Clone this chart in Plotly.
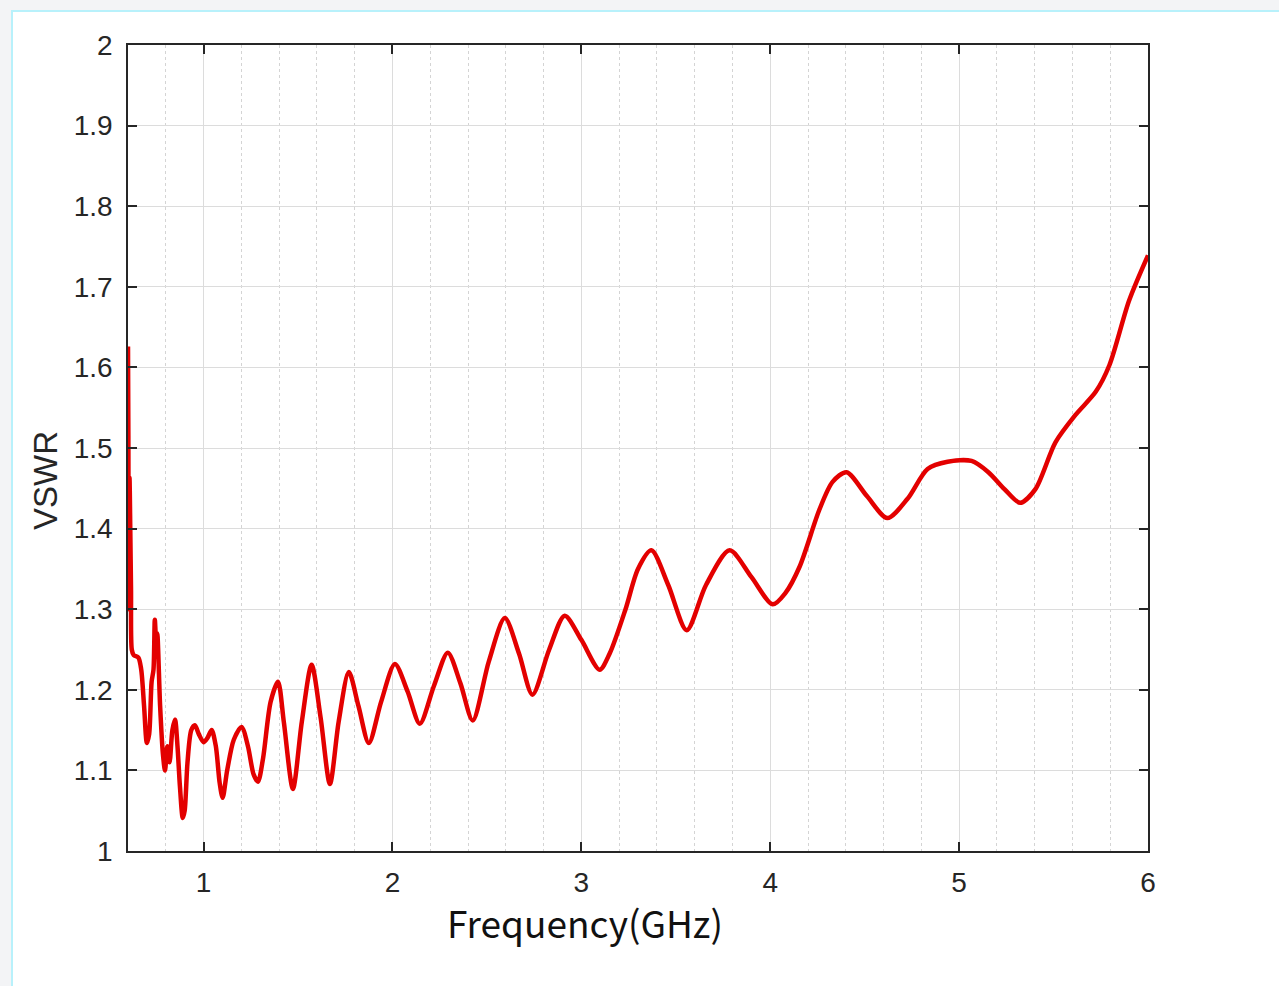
import plotly.graph_objects as go

freq_ghz = [0.600, 0.602, 0.604, 0.608, 0.612, 0.616, 0.620, 0.630, 0.655, 0.670, 0.685,
            0.700, 0.712, 0.725, 0.735, 0.742, 0.750, 0.755, 0.770, 0.785, 0.796, 0.808,
            0.820, 0.835, 0.849, 0.862, 0.875, 0.890, 0.900, 0.915, 0.935, 0.954, 0.975,
            1.000, 1.020, 1.043, 1.065, 1.085, 1.101, 1.125, 1.160, 1.201, 1.235, 1.265,
            1.288, 1.315, 1.355, 1.394, 1.425, 1.473, 1.520, 1.572, 1.620, 1.669, 1.715,
            1.769, 1.820, 1.875, 1.940, 2.013, 2.080, 2.145, 2.220, 2.293, 2.360, 2.425,
            2.510, 2.595, 2.670, 2.741, 2.830, 2.912, 3.000, 3.097, 3.150, 3.234, 3.300,
            3.371, 3.460, 3.558, 3.660, 3.785, 3.900, 4.013, 4.080, 4.156, 4.261, 4.330,
            4.404, 4.513, 4.620, 4.727, 4.833, 4.939, 5.066, 5.155, 5.240, 5.323, 5.404,
            5.510, 5.616, 5.724, 5.796, 5.900, 6.000]
vswr = [1.626, 1.515, 1.300, 1.463, 1.400, 1.324, 1.250, 1.243, 1.240, 1.225, 1.180,
        1.134, 1.145, 1.210, 1.225, 1.287, 1.255, 1.270, 1.180, 1.120, 1.100, 1.130,
        1.110, 1.150, 1.163, 1.130, 1.080, 1.041, 1.050, 1.110, 1.150, 1.156, 1.145,
        1.135, 1.140, 1.150, 1.130, 1.085, 1.066, 1.100, 1.138, 1.154, 1.130, 1.095,
        1.086, 1.115, 1.185, 1.210, 1.160, 1.077, 1.160, 1.231, 1.165, 1.083, 1.160,
        1.222, 1.180, 1.134, 1.185, 1.232, 1.198, 1.158, 1.205, 1.246, 1.208, 1.162,
        1.235, 1.289, 1.245, 1.194, 1.250, 1.292, 1.262, 1.225, 1.245, 1.300, 1.350,
        1.373, 1.330, 1.274, 1.330, 1.373, 1.340, 1.306, 1.320, 1.353, 1.424, 1.458,
        1.470, 1.440, 1.413, 1.437, 1.474, 1.483, 1.484, 1.470, 1.449, 1.432, 1.449,
        1.507, 1.541, 1.570, 1.603, 1.683, 1.739]

x_ticks = [1, 2, 3, 4, 5, 6]
y_ticks = [1, 1.1, 1.2, 1.3, 1.4, 1.5, 1.6, 1.7, 1.8, 1.9, 2]
y_tick_text = ["1", "1.1", "1.2", "1.3", "1.4", "1.5", "1.6", "1.7", "1.8", "1.9", "2"]

W, H = 1279, 986
L, R, T, B = 128, 1148, 45, 851

def px(xp):
    return (xp - L) / (R - L)

def py(yp):
    return (B - yp) / (B - T)

axis_col = "#262626"
grid_col = "#dcdcdc"
tick_font = dict(family="Liberation Sans, Arial, sans-serif", size=28, color=axis_col)

fig = go.Figure()
fig.add_trace(go.Scatter(x=freq_ghz, y=vswr, mode="lines",
                         line=dict(color="#e30000", width=4.5, shape="spline", smoothing=0.8),
                         hoverinfo="skip", showlegend=False))

fig.update_layout(
    width=W, height=H,
    margin=dict(l=L, r=W - R, t=T, b=H - B, pad=0),
    paper_bgcolor="#f3f4f6",
    plot_bgcolor="white",
    showlegend=False,
    shapes=[dict(type="rect", xref="paper", yref="paper", layer="below",
                 x0=px(12), x1=px(W + 10), y0=py(H + 10), y1=py(11),
                 fillcolor="white", line=dict(color="#b8f1fb", width=2))],
    annotations=[
        dict(text="Frequency(GHz)", xref="paper", yref="paper", x=px(585), y=py(922),
             xanchor="center", yanchor="middle", showarrow=False,
             font=dict(family="Noto Sans CJK SC, Noto Sans, sans-serif", size=37, color="#111111")),
        dict(text="VSWR", xref="paper", yref="paper", x=px(45), y=py(481), textangle=-90,
             xanchor="center", yanchor="middle", showarrow=False,
             font=dict(family="Liberation Sans, Arial, sans-serif", size=33, color=axis_col)),
    ],
)

fig.update_xaxes(
    range=[0.6, 6], tickmode="array", tickvals=x_ticks, ticktext=[str(v) for v in x_ticks],
    showline=True, linecolor=axis_col, linewidth=1.5, mirror="ticks",
    ticks="inside", ticklen=9, tickwidth=1.5, tickcolor=axis_col,
    showgrid=True, gridcolor=grid_col, gridwidth=1.2, zeroline=False,
    tickfont=tick_font, ticklabelstandoff=6,
    minor=dict(dtick=0.2, tick0=0, showgrid=True, gridcolor="#d4d4d4", griddash="dot", gridwidth=1, ticks=""),
)
fig.update_yaxes(
    range=[1, 2], tickmode="array", tickvals=y_ticks, ticktext=y_tick_text,
    showline=True, linecolor=axis_col, linewidth=1.5, mirror="ticks",
    ticks="inside", ticklen=9, tickwidth=1.5, tickcolor=axis_col,
    showgrid=True, gridcolor=grid_col, gridwidth=1.2, zeroline=False,
    tickfont=tick_font, ticklabelstandoff=8,
)

fig.write_html("out.html", config={"displayModeBar": False},
               post_script="document.body.style.margin='0';document.body.style.background='#f3f4f6';document.body.style.overflow='hidden';")
